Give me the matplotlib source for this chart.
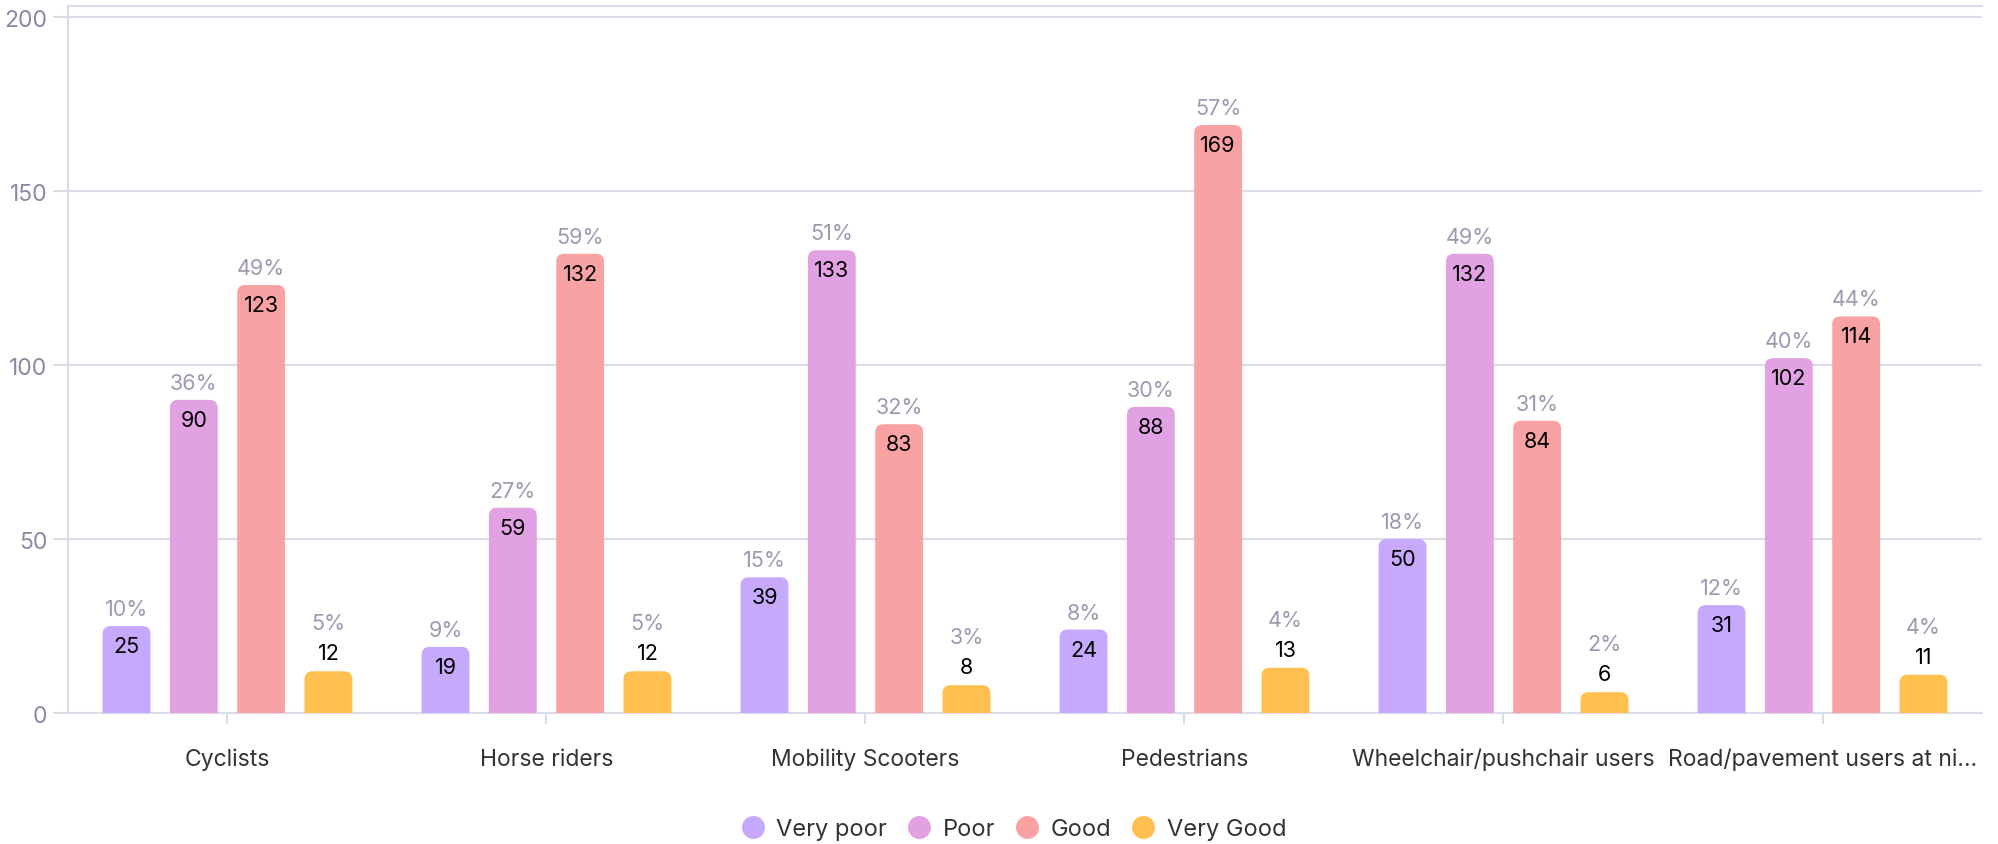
import matplotlib.pyplot as plt
from matplotlib.patches import FancyBboxPatch
from matplotlib.lines import Line2D

categories = ["Cyclists", "Horse riders", "Mobility Scooters", "Pedestrians",
              "Wheelchair/pushchair users", "Road/pavement users at ni\u2026"]
series = ["Very poor", "Poor", "Good", "Very Good"]
very_poor = [25, 19, 39, 24, 50, 31]
poor = [90, 59, 133, 88, 132, 102]
good = [123, 132, 83, 169, 84, 114]
very_good = [12, 12, 8, 13, 6, 11]
pct_very_poor = [10, 9, 15, 8, 18, 12]
pct_poor = [36, 27, 51, 30, 49, 40]
pct_good = [49, 59, 32, 57, 31, 44]
pct_very_good = [5, 5, 3, 4, 2, 4]

colors = ["#c6a8fc", "#e2a1e3", "#f9a2a3", "#ffc04f"]
grid_col = "#dcdce8"
grey_txt = "#9a9ab0"

plt.rcParams['font.family'] = ['Inter', 'DejaVu Sans']

fig = plt.figure(figsize=(19.99, 8.45), dpi=100)
ax = fig.add_axes([0.034, 0.155, 0.9575, 0.8367])

ymax = 203.2
ax.set_xlim(-0.5, len(categories) - 0.5)
ax.set_ylim(0, ymax)

# pixel scale, used to keep the rounded corners round
ax_w = fig.get_figwidth() * fig.dpi * 0.9575
ax_h = fig.get_figheight() * fig.dpi * 0.8367
px_x = ax_w / len(categories)
px_y = ax_h / ymax
aspect = px_x / px_y

width = 0.15
step = 0.211
values = [very_poor, poor, good, very_good]
pcts = [pct_very_poor, pct_poor, pct_good, pct_very_good]

for s, (vals, pc) in enumerate(zip(values, pcts)):
    off = (s - 1.5) * step
    for i, v in enumerate(vals):
        x = i + off
        r = 8 / px_x
        patch = FancyBboxPatch((x - width / 2, -10), width, v + 10,
                               boxstyle="round,pad=0,rounding_size=%f" % r,
                               mutation_aspect=aspect, fc=colors[s], ec="none",
                               zorder=3)
        ax.add_patch(patch)
        if v >= 15:
            ax.text(x, v - 20 / px_y, str(v), ha="center", va="center",
                    fontsize=15.5, color="black", zorder=4)
            ax.text(x, v + 17 / px_y, "%d%%" % pc[i], ha="center", va="center",
                    fontsize=15.5, color=grey_txt, zorder=4)
        else:
            ax.text(x, v + 18 / px_y, str(v), ha="center", va="center",
                    fontsize=15.5, color="black", zorder=4)
            ax.text(x, v + 48 / px_y, "%d%%" % pc[i], ha="center", va="center",
                    fontsize=15.5, color=grey_txt, zorder=4)

ax.set_yticks([0, 50, 100, 150, 200])
ax.set_xticks(range(len(categories)))
ax.set_xticklabels(categories, fontsize=16.5, color="#333333")
ax.tick_params(axis="y", labelsize=16.5, labelcolor="#8a8aa2", color=grid_col,
               length=11, width=1.5, pad=4)
ax.tick_params(axis="x", color=grid_col, length=8, width=1.5, pad=17)
ax.grid(axis="y", color=grid_col, linewidth=1.5, zorder=0)
ax.set_axisbelow(True)

for side in ["left", "bottom", "top"]:
    ax.spines[side].set_color(grid_col)
    ax.spines[side].set_linewidth(1.5)
ax.spines["right"].set_visible(False)

handles = [Line2D([], [], marker="o", linestyle="none", markersize=16.5,
                  markerfacecolor=c, markeredgecolor="none") for c in colors]
fig.legend(handles, series, loc="center", bbox_to_anchor=(0.507, 0.018),
           ncol=4, frameon=False, fontsize=17, labelcolor="#333333",
           handlelength=1.0, handletextpad=0.5, columnspacing=0.85)

fig.savefig("out.png", dpi=100)
